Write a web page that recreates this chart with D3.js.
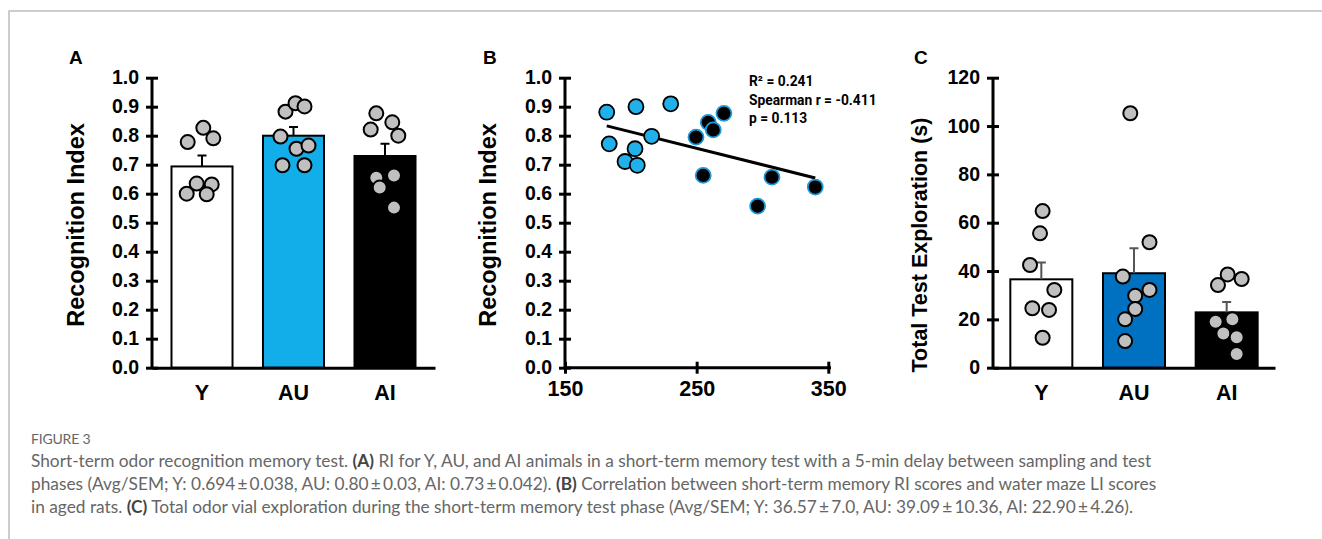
<!DOCTYPE html>
<html>
<head>
<meta charset="utf-8">
<script src="https://cdn.jsdelivr.net/npm/d3@7"></script>
<style>
  body { margin: 0; background: #fff; }
  svg { display: block; }
  .ax text { font-family: "Liberation Sans", Arial, sans-serif; font-weight: bold; fill: #000; }
  .ax path, .ax line { stroke: #000; stroke-width: 3; }
</style>
</head>
<body>
<div id="chart"></div>
<script>
// groups shared by panels A and C
var groups = ["Y", "AU", "AI"];

// panel A - recognition index
var riMean = [0.694, 0.80, 0.73];
var riSem = [0.038, 0.03, 0.042];
var riY = [0.778, 0.827, 0.791, 0.635, 0.632, 0.600, 0.598];
var riAU = [0.883, 0.912, 0.901, 0.797, 0.755, 0.766, 0.698, 0.698];
var riAI = [0.877, 0.846, 0.821, 0.800, 0.655, 0.663, 0.621, 0.552];
var riTicks = [0, 0.1, 0.2, 0.3, 0.4, 0.5, 0.6, 0.7, 0.8, 0.9, 1.0];

// panel B - RI vs water maze LI (aged rats)
var liAU = [181.7, 203.9, 230.3, 183.6, 215.8, 203.2, 195.6, 204.9];
var riB_AU = [0.881, 0.900, 0.910, 0.772, 0.798, 0.755, 0.711, 0.698];
var liAI = [270.7, 258.8, 262.6, 249.5, 255.0, 307.2, 340.1, 296.3];
var riB_AI = [0.877, 0.846, 0.820, 0.795, 0.663, 0.657, 0.623, 0.557];
var liTicks = [150, 250, 350];
var statLines = ["R\u00b2 = 0.241", "Spearman r = -0.411", "p = 0.113"];

// panel C - total test exploration (s)
var expMean = [36.57, 39.09, 22.90];
var expSem = [7.0, 10.36, 4.26];
var expY = [64.8, 55.6, 42.5, 32.2, 24.6, 23.9, 12.4];
var expAU = [105.3, 51.9, 37.7, 32.2, 29.8, 24.3, 20.0, 11.0];
var expAI = [38.6, 36.7, 34.2, 19.0, 20.0, 14.2, 12.6, 5.7];
var expTicks = [0, 20, 40, 60, 80, 100, 120];

// horizontal scatter of the dots (px from bar centre)
var jitA = [[-14.3, 1.3, 11.3, -5.3, 9.7, -15.3, 4.7],
            [-8, 2, 11, -13, 3, 15, -11, 11],
            [-8.7, 7.3, -14.3, 13.3, -8.7, 9, -5.3, 9]];
var jitC = [[1.3, -1.3, -11.3, 13, -9, 7.7, 1.3],
            [-3.7, 15.5, -11.2, 15.5, 1.2, 1.2, -8.9, -8.9],
            [1, 15, -8.7, -11, 5.7, -3.3, 10, 10]];

var W = 1322, H = 539;
var svg = d3.select("#chart").append("svg")
    .attr("width", W)
    .attr("height", H);

// figure frame
svg.append("path")
    .attr("d", "M9,539V11H1322")
    .attr("fill", "none")
    .attr("stroke", "#bdbdbd")
    .attr("stroke-width", 1.5);

function panelLetter(txt, x) {
  svg.append("text")
      .attr("x", x).attr("y", 64)
      .attr("font-family", "Liberation Sans, Arial, sans-serif")
      .attr("font-weight", "bold")
      .attr("font-size", 19)
      .text(txt);
}

function yTitle(txt, x, yc, size) {
  svg.append("text")
      .attr("transform", "translate(" + x + "," + yc + ") rotate(-90)")
      .attr("text-anchor", "middle")
      .attr("font-family", "Liberation Sans, Arial, sans-serif")
      .attr("font-weight", "bold")
      .attr("font-size", size)
      .text(txt);
}

function drawYAxis(y, x0, ticks, fmt) {
  var g = svg.append("g")
      .attr("class", "ax")
      .attr("transform", "translate(" + x0 + ",0)")
      .call(d3.axisLeft(y).tickValues(ticks).tickFormat(fmt).tickSize(6).tickSizeOuter(0).tickPadding(7));
  g.selectAll(".tick line").attr("x1", -6).attr("x2", 6);
  g.selectAll(".tick text").attr("font-size", 19.5);
  g.select(".domain").attr("d", "M0," + y.range()[0] + "V" + y.range()[1]);
  return g;
}

function barPanel(x, y, means, sems, pts, jit, fills, errColor) {
  var yBase = y.range()[0];
  var xAxis = svg.append("g")
      .attr("class", "ax")
      .attr("transform", "translate(0," + yBase + ")")
      .call(d3.axisBottom(x).tickSize(0).tickPadding(17));
  xAxis.selectAll(".tick text").attr("font-size", 21.5).attr("dy", "0.71em");

  svg.selectAll(null)
      .data(means)
      .enter().append("rect")
      .attr("x", function(d, i) { return x(groups[i]); })
      .attr("width", x.bandwidth())
      .attr("y", function(d) { return y(d); })
      .attr("height", function(d) { return yBase - y(d); })
      .attr("fill", function(d, i) { return fills[i]; })
      .attr("stroke", "#000")
      .attr("stroke-width", 2);

  // upward SEM whiskers
  means.forEach(function(m, i) {
    var cx = x(groups[i]) + x.bandwidth() / 2;
    svg.append("path")
        .attr("d", "M" + cx + "," + y(m) + "V" + y(m + sems[i]) + "M" + (cx - 4.5) + "," + y(m + sems[i]) + "H" + (cx + 4.5))
        .attr("fill", "none")
        .attr("stroke", errColor)
        .attr("stroke-width", 2);
  });

  pts.forEach(function(vals, i) {
    var cx = x(groups[i]) + x.bandwidth() / 2;
    svg.selectAll(null)
        .data(vals)
        .enter().append("circle")
        .attr("cx", function(d, j) { return cx + jit[i][j]; })
        .attr("cy", function(d) { return y(d); })
        .attr("r", 7)
        .attr("fill", "#c0c0c0")
        .attr("stroke", "#000")
        .attr("stroke-width", 2);
  });

  xAxis.raise();
}

// ---------- Panel A ----------
var xA = d3.scaleBand().domain(groups).range([152, 435]).paddingInner(0.333).paddingOuter(0.213);
var yA = d3.scaleLinear().domain([0, 1]).range([367.7, 77.7]);
panelLetter("A", 69);
yTitle("Recognition Index", 84, 225, 23.5);
barPanel(xA, yA, riMean, riSem, [riY, riAU, riAI], jitA, ["#fff", "#12aeea", "#000"], "#000");
drawYAxis(yA, 152, riTicks, d3.format(".1f"));

// ---------- Panel B ----------
var xB = d3.scaleLinear().domain([150, 350]).range([565, 828.3]);
var yB = d3.scaleLinear().domain([0, 1]).range([367.7, 77.7]);
panelLetter("B", 483);
yTitle("Recognition Index", 496, 225, 23.5);

var gx = svg.append("g")
    .attr("class", "ax")
    .attr("transform", "translate(0," + yB.range()[0] + ")")
    .call(d3.axisBottom(xB).tickValues(liTicks).tickSize(6).tickSizeOuter(0).tickPadding(7));
gx.selectAll(".tick line").attr("y1", -6).attr("y2", 6);
gx.selectAll(".tick text").attr("font-size", 21.5);
gx.select(".domain").attr("d", "M565,0H831");

drawYAxis(yB, 565, riTicks, d3.format(".1f"));

// least-squares trend line over all aged rats
var allX = liAU.concat(liAI), allY = riB_AU.concat(riB_AI);
var mx = d3.mean(allX), my = d3.mean(allY);
var sxy = d3.sum(allX, function(d, i) { return (d - mx) * (allY[i] - my); });
var sxx = d3.sum(allX, function(d) { return (d - mx) * (d - mx); });
var slope = sxy / sxx, icpt = my - slope * mx;
var ext = d3.extent(allX);
svg.append("line")
    .attr("x1", xB(ext[0])).attr("y1", yB(icpt + slope * ext[0]))
    .attr("x2", xB(ext[1])).attr("y2", yB(icpt + slope * ext[1]))
    .attr("stroke", "#000")
    .attr("stroke-width", 3);

svg.selectAll(null)
    .data(liAU)
    .enter().append("circle")
    .attr("cx", function(d) { return xB(d); })
    .attr("cy", function(d, i) { return yB(riB_AU[i]); })
    .attr("r", 7.5)
    .attr("fill", "#22b0ea")
    .attr("stroke", "#000")
    .attr("stroke-width", 1.8);

svg.selectAll(null)
    .data(liAI)
    .enter().append("circle")
    .attr("cx", function(d) { return xB(d); })
    .attr("cy", function(d, i) { return yB(riB_AI[i]); })
    .attr("r", 7.5)
    .attr("fill", "#000")
    .attr("stroke", "#1e9ad8")
    .attr("stroke-width", 1.8);

svg.append("text")
    .attr("x", 749)
    .attr("y", 86)
    .attr("font-family", "Roboto, sans-serif")
    .attr("font-weight", "bold")
    .attr("font-size", 13.8)
    .selectAll("tspan")
    .data(statLines)
    .enter().append("tspan")
    .attr("x", 749)
    .attr("dy", function(d, i) { return i ? 18.5 : 0; })
    .text(function(d) { return d; });

// ---------- Panel C ----------
var xC = d3.scaleBand().domain(groups).range([993, 1275]).paddingInner(0.331).paddingOuter(0.187);
var yC = d3.scaleLinear().domain([0, 120]).range([367.7, 77.7]);
panelLetter("C", 914);
yTitle("Total Test Exploration (s)", 927, 245, 21.5);
barPanel(xC, yC, expMean, expSem, [expY, expAU, expAI], jitC, ["#fff", "#0070c0", "#000"], "#555");
drawYAxis(yC, 993, expTicks, d3.format("d"));

// ---------- Caption ----------
var cap = svg.append("g")
    .attr("font-family", "Lato, 'Open Sans', sans-serif")
    .attr("fill", "#666");

cap.append("text")
    .attr("x", 31).attr("y", 444)
    .attr("font-size", 14)
    .attr("letter-spacing", -0.2)
    .text("FIGURE 3");

var capLines = [
  [["Short-term odor recognition memory test. ", 0], ["(A)", 1], [" RI for Y, AU, and AI animals in a short-term memory test with a 5-min delay between sampling and test", 0]],
  [["phases (Avg/SEM; Y: 0.694\u2009\u00b1\u20090.038, AU: 0.80\u2009\u00b1\u20090.03, AI: 0.73\u2009\u00b1\u20090.042). ", 0], ["(B)", 1], [" Correlation between short-term memory RI scores and water maze LI scores", 0]],
  [["in aged rats. ", 0], ["(C)", 1], [" Total odor vial exploration during the short-term memory test phase (Avg/SEM; Y: 36.57\u2009\u00b1\u20097.0, AU: 39.09\u2009\u00b1\u200910.36, AI: 22.90\u2009\u00b1\u20094.26).", 0]]
];

capLines.forEach(function(parts, i) {
  var t = cap.append("text")
      .attr("x", 31)
      .attr("y", 467 + i * 23)
      .attr("font-size", 17.3);
  parts.forEach(function(p) {
    t.append("tspan")
        .attr("font-weight", p[1] ? "bold" : "normal")
        .attr("fill", p[1] ? "#444" : "#666")
        .text(p[0]);
  });
});
</script>
</body>
</html>
